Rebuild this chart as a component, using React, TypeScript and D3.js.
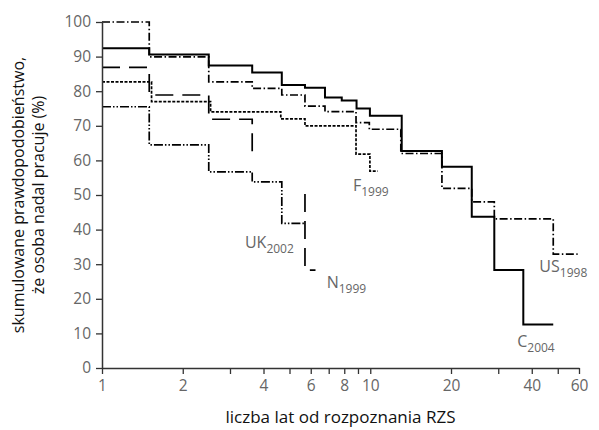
import { useEffect, useRef } from "react";
import * as d3 from "d3";

// axis ticks
const xTicks = [1, 2, 3, 4, 5, 6, 7, 8, 9, 10, 20, 30, 40, 50, 60];
const xTickLabels = [1, 2, 4, 6, 8, 10, 20, 40, 60];
const yTicks = [0, 10, 20, 30, 40, 50, 60, 70, 80, 90, 100];

// step curves: year where each step starts, value held until the next year
const cYears = [1, 1.5, 2.5, 3.63, 4.68, 5.71, 6.78, 7.83, 8.89, 9.97, 13.1, 18.5, 23.9, 29, 37.2, 48.1];
const cValues = [92.4, 90.6, 87.4, 85.4, 81.8, 81.0, 78.2, 77.3, 75.0, 72.9, 62.7, 58.2, 43.7, 28.3, 12.6, 12.6];

const usYears = [1, 1.5, 2.5, 3.63, 4.68, 5.71, 6.78, 8.85, 9.92, 13.0, 18.5, 23.9, 29, 48.1, 59.3];
const usValues = [100, 89.9, 82.7, 80.8, 78.9, 75.7, 74.1, 70.9, 69.0, 62.0, 51.9, 48.0, 43.1, 32.9, 32.9];

const fYears = [1, 1.53, 2.54, 4.64, 5.71, 8.85, 9.97, 10.66];
const fValues = [82.7, 77.0, 74.0, 72.0, 70.0, 61.8, 56.9, 56.9];

const ukYears = [1, 1.5, 2.5, 3.63, 4.68, 5.71];
const ukValues = [75.5, 64.5, 56.7, 53.8, 41.8, 41.8];

// N1999 is broken in the source figure (null = gap)
const nYears = [1, 1.5, 2.5, 3.63, null, 5.71, 5.71, 6.25];
const nValues = [86.9, 78.9, 71.9, 61.6, null, 50.3, 28.3, 28.3];

const seriesNames = ["C", "US", "F", "UK", "N"];
const labelYears = ["2004", "1998", "1999", "2002", "1999"];
const labelX = [35.3, 42.7, 8.62, 3.41, 6.88];
const labelY = [6.0, 27.7, 51.2, 34.6, 23.0];

const seriesData = [
  [cYears, cValues],
  [usYears, usValues],
  [fYears, fValues],
  [ukYears, ukValues],
  [nYears, nValues],
];
const dashes = ["none", "8,2.5,1.5,2.5", "3,1.5", "9,2,1.5,2,1.5,2", "18,9"];

export default function App() {
  const ref = useRef<SVGSVGElement>(null);

  useEffect(() => {
    const width = 599;
    const height = 430;
    const margin = { top: 22, right: 20, bottom: 62, left: 102 };

    const svg = d3.select(ref.current);
    svg.selectAll("*").remove();

    const x = d3.scaleLog().domain([1, 60]).range([margin.left, width - margin.right]);
    const y = d3.scaleLinear().domain([0, 100]).range([height - margin.bottom, margin.top]);

    const font = "'Open Sans', sans-serif";
    const grey = "#666";

    // curves
    const line = d3
      .line<[number | null, number | null]>()
      .defined((d) => d[0] !== null)
      .x((d) => x(d[0] as number))
      .y((d) => y(d[1] as number))
      .curve(d3.curveStepAfter);

    seriesData.forEach(([years, values], i) => {
      const pts = years.map((t, j) => [t, values[j]] as [number | null, number | null]);
      svg
        .append("path")
        .attr("d", line(pts))
        .attr("fill", "none")
        .attr("stroke", "#000")
        .attr("stroke-width", i === 0 ? 2 : 1.7)
        .attr("stroke-dasharray", dashes[i]);
    });

    // x axis
    const xAxis = svg
      .append("g")
      .attr("transform", `translate(0,${height - margin.bottom})`)
      .call(
        d3
          .axisBottom(x)
          .tickValues(xTicks)
          .tickSize(6)
          .tickSizeOuter(0)
          .tickFormat((d) => (xTickLabels.includes(d as number) ? String(d) : ""))
      );
    xAxis.select(".domain").attr("stroke", "#333").attr("stroke-width", 1.5);
    xAxis.selectAll(".tick line").attr("stroke", "#333").attr("stroke-width", 1.3);
    xAxis
      .selectAll(".tick text")
      .attr("fill", grey)
      .attr("font-family", font)
      .attr("font-size", 15.5)
      .attr("dy", "0.9em");

    // y axis
    const yAxis = svg
      .append("g")
      .attr("transform", `translate(${margin.left},0)`)
      .call(d3.axisLeft(y).tickValues(yTicks).tickSize(6).tickSizeOuter(0));
    yAxis.select(".domain").attr("stroke", "#333").attr("stroke-width", 1.5);
    yAxis.selectAll(".tick line").attr("stroke", "#333").attr("stroke-width", 1.3);
    yAxis
      .selectAll(".tick text")
      .attr("fill", grey)
      .attr("font-family", font)
      .attr("font-size", 15.5)
      .attr("x", -11);

    // axis titles
    svg
      .append("text")
      .attr("x", (margin.left + width - margin.right) / 2)
      .attr("y", 423)
      .attr("text-anchor", "middle")
      .attr("font-family", font)
      .attr("font-size", 17)
      .attr("fill", "#111")
      .text("liczba lat od rozpoznania RZS");

    const yTitle = svg
      .append("text")
      .attr("transform", `translate(24,${(margin.top + height - margin.bottom) / 2}) rotate(-90)`)
      .attr("text-anchor", "middle")
      .attr("font-family", font)
      .attr("font-size", 16)
      .attr("fill", "#111");
    yTitle.append("tspan").attr("x", 0).attr("dy", 0).text("skumulowane prawdopodobieństwo,");
    yTitle.append("tspan").attr("x", 0).attr("dy", 20).text("że osoba nadal pracuje (%)");

    // curve labels
    seriesNames.forEach((name, i) => {
      const t = svg
        .append("text")
        .attr("x", x(labelX[i]))
        .attr("y", y(labelY[i]))
        .attr("font-family", font)
        .attr("font-size", 16)
        .attr("fill", grey);
      t.append("tspan").text(name);
      t.append("tspan").attr("font-size", 12).attr("dy", 5).text(labelYears[i]);
    });
  }, []);

  return (
    <div style={{ position: "absolute", left: 0, top: 0 }}>
      <svg ref={ref} width={599} height={430} style={{ display: "block", background: "#fff" }} />
    </div>
  );
}
